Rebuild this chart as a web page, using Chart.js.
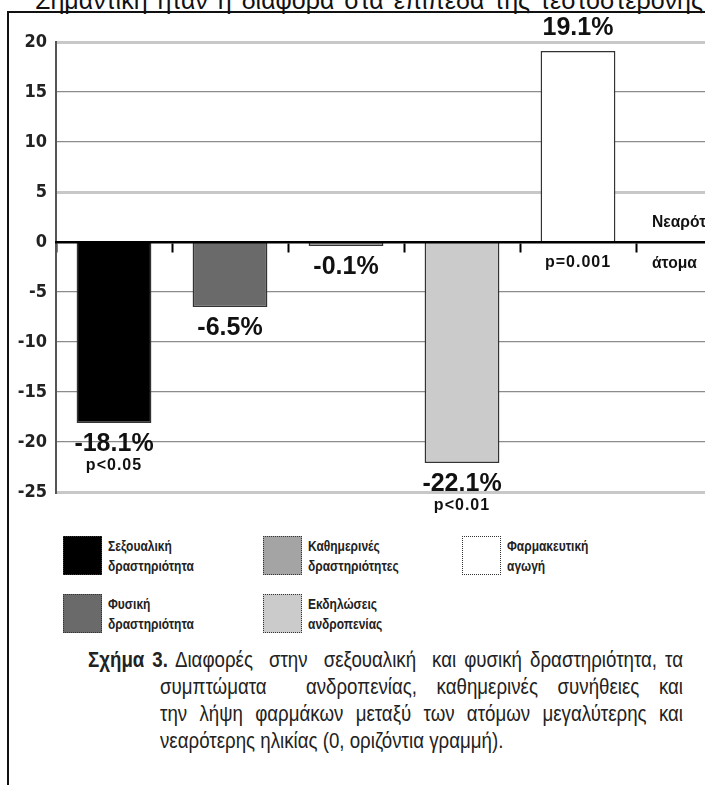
<!DOCTYPE html>
<html>
<head>
<meta charset="utf-8">
<script src="https://cdn.jsdelivr.net/npm/chart.js@4"></script>
<style>
  body { margin: 0; width: 705px; height: 785px; overflow: hidden; position: relative; background: #fff; }
  .cond { font-family: "Liberation Sans", Arial, sans-serif; transform-origin: 0 0; }
  #toptext { position: absolute; left: 35px; top: -12px; font-size: 25px; line-height: 25px; white-space: nowrap; color: #111; word-spacing: 3px; font-family: "Liberation Sans", Arial, sans-serif; }
  #frame { position: absolute; left: 7px; top: 11px; width: 698px; height: 774px; border-top: 2px solid #111; border-left: 2px solid #111; box-sizing: border-box; }
  #chartbox { position: absolute; left: 0; top: 0; width: 705px; height: 530px; overflow: hidden; }
  .sw { position: absolute; width: 39px; height: 39px; border: 1px dotted #333; box-sizing: border-box; }
  .lt { position: absolute; font-weight: bold; font-size: 15px; line-height: 20px; color: #222; white-space: nowrap; transform: scaleX(0.8); }
  .cap { position: absolute; font-size: 22px; line-height: 27px; color: #222; white-space: nowrap;
         text-align: justify; text-align-last: justify; transform: scaleX(0.85); }
  .cap.last { text-align-last: left; }
  .cap b { font-weight: bold; }
</style>
</head>
<body>
<div id="toptext">Σημαντική ήταν η διαφορά στα επίπεδα της τεστοστερόνης</div>
<div id="frame"></div>
<div id="chartbox"><canvas id="chart" width="770" height="530"></canvas></div>
<div id="legend"></div>
<div id="caption"></div>
<script>
const categories = ['Σεξουαλική δραστηριότητα', 'Φυσική δραστηριότητα', 'Καθημερινές δραστηριότητες', 'Εκδηλώσεις ανδροπενίας', 'Φαρμακευτική αγωγή', ''];
const values = [-18.1, -6.5, -0.1, -22.1, 19.1, null];
const valueLabels = ['-18.1%', '-6.5%', '-0.1%', '-22.1%', '19.1%', ''];
const pLabels = ['p<0.05', '', '', 'p<0.01', 'p=0.001', ''];
const barColors = ['#000000', '#6a6a6a', '#a4a4a4', '#cbcbcb', '#ffffff', '#ffffff'];
const legendOrder = [0, 2, 4, 1, 3];
const yMin = -25, yMax = 20, yStep = 5;
const sideNote = ['Νεαρότερα', 'άτομα'];
const captionTitle = 'Σχήμα 3.';
const captionLines = [
    'Διαφορές &nbsp;στην &nbsp;σεξουαλική &nbsp;και φυσική δραστηριότητα, τα',
    'συμπτώματα &nbsp;ανδροπενίας, καθημερινές συνήθειες και',
    'την λήψη φαρμάκων μεταξύ των ατόμων μεγαλύτερης και',
    'νεαρότερης ηλικίας (0, οριζόντια γραμμή).'
];

const FONT = '"Liberation Sans", Arial, sans-serif';

// legend, two rows like the printed figure
const legendCols = [63, 263, 462];
const legendRows = [536, 594];
const legend = document.getElementById('legend');
legendOrder.forEach((idx, k) => {
    const x = legendCols[k % 3];
    const y = legendRows[Math.floor(k / 3)];
    const sw = document.createElement('div');
    sw.className = 'sw';
    sw.style.left = x + 'px';
    sw.style.top = y + 'px';
    sw.style.background = barColors[idx];
    legend.appendChild(sw);
    const t = document.createElement('div');
    t.className = 'lt cond';
    t.style.left = (x + 45) + 'px';
    t.style.top = y + 'px';
    t.innerHTML = categories[idx].split(' ').join('<br>');
    legend.appendChild(t);
});

// caption: first line starts with the bold title, the rest are indented
const caption = document.getElementById('caption');
const capRight = 683, capSqueeze = 0.85;
captionLines.forEach((txt, i) => {
    const d = document.createElement('div');
    d.className = 'cap cond' + (i === captionLines.length - 1 ? ' last' : '');
    const left = i === 0 ? 88 : 160;
    d.style.left = left + 'px';
    d.style.top = (646 + i * 27) + 'px';
    d.style.width = ((capRight - left) / capSqueeze) + 'px';
    d.innerHTML = (i === 0 ? '<b>' + captionTitle + '</b> ' : '') + txt;
    caption.appendChild(d);
});

// draws text squeezed horizontally, to look like the condensed print face
function narrowText(ctx, txt, x, y, align, sx) {
    ctx.save();
    ctx.translate(x, y);
    ctx.scale(sx, 1);
    ctx.textAlign = align;
    ctx.fillText(txt, 0, 0);
    ctx.restore();
}

const barLabels = {
    id: 'barLabels',
    afterDatasetsDraw(chart) {
        const ctx = chart.ctx;
        const y0 = chart.scales.y.getPixelForValue(0);
        const meta = chart.getDatasetMeta(0);
        ctx.save();
        ctx.fillStyle = '#111';
        ctx.textBaseline = 'middle';
        meta.data.forEach((bar, i) => {
            if (values[i] == null) return;
            let vy, py;
            if (values[i] < 0) {
                vy = bar.y + 21;
                py = vy + 22;
            } else {
                vy = bar.y - 23;
                py = y0 + 21;
            }
            ctx.font = 'bold 25px ' + FONT;
            narrowText(ctx, valueLabels[i], bar.x, vy, 'center', 1);
            if (pLabels[i]) {
                ctx.font = 'bold 16px ' + FONT;
                ctx.letterSpacing = '1px';
                narrowText(ctx, pLabels[i], bar.x, py, 'center', 1);
                ctx.letterSpacing = '0px';
            }
        });
        // note at the right edge, above and below the zero line
        const nx = chart.scales.x.getPixelForValue(5) - 42;
        ctx.font = 'bold 17px ' + FONT;
        narrowText(ctx, sideNote[0], nx, y0 - 20, 'left', 0.92);
        narrowText(ctx, sideNote[1], nx, y0 + 21, 'left', 0.92);
        ctx.restore();
    }
};

new Chart(document.getElementById('chart'), {
    type: 'bar',
    data: {
        labels: categories,
        datasets: [{
            data: values,
            backgroundColor: barColors,
            borderColor: '#333',
            borderWidth: 1.5,
            minBarLength: 4,
            categoryPercentage: 1,
            barPercentage: 0.645
        }]
    },
    options: {
        responsive: false,
        animation: false,
        layout: { padding: { left: 8, right: 18, top: 42, bottom: 38 } },
        plugins: { legend: { display: false }, tooltip: { enabled: false } },
        scales: {
            x: {
                position: { y: 0 },
                ticks: { display: false },
                grid: { drawOnChartArea: false, drawTicks: true, tickLength: 9, tickColor: '#000', tickWidth: 2 },
                border: { color: '#000', width: 2.5, z: 1 }
            },
            y: {
                min: yMin,
                max: yMax,
                afterFit: (s) => { s.width = 48; },
                ticks: {
                    stepSize: yStep,
                    padding: 9,
                    color: '#222',
                    font: { family: '"DejaVu Sans Condensed", sans-serif', size: 18, weight: 'bold' }
                },
                grid: {
                    drawTicks: false,
                    color: (c) => {
                        const v = c.tick.value;
                        if (v === 0) return '#000';
                        if (v === 20 || v === 5 || v === -25) return '#c8c8c8';
                        return '#8c8c8c';
                    },
                    lineWidth: (c) => {
                        const v = c.tick.value;
                        if (v === 0) return 2;
                        if (v === 20 || v === 5 || v === -25) return 3;
                        return 1.2;
                    }
                },
                border: { color: '#555', width: 2 }
            }
        }
    },
    plugins: [barLabels]
});
</script>
</body>
</html>
